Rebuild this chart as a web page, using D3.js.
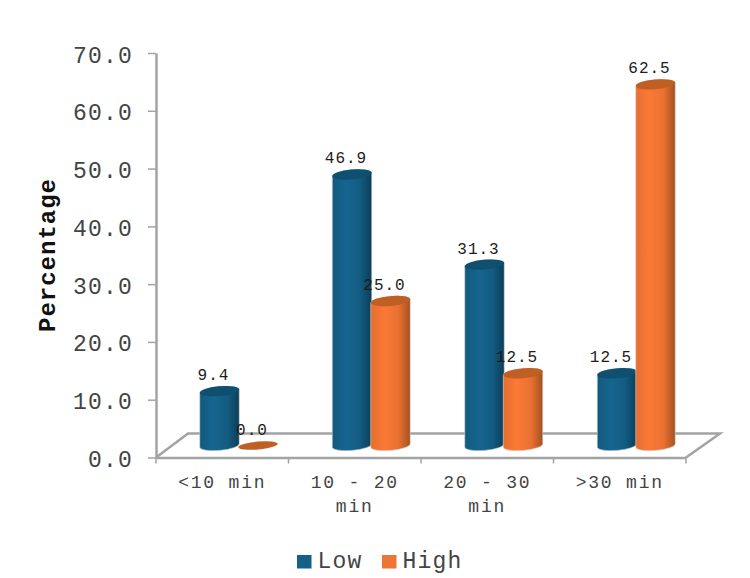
<!DOCTYPE html>
<html>
<head>
<meta charset="utf-8">
<script src="https://cdn.jsdelivr.net/npm/d3@7/dist/d3.min.js"></script>
<style>
  html, body { margin: 0; background: #fff; }
  svg { display: block; }
  text { font-family: "Liberation Mono", monospace; fill: #444; }
</style>
</head>
<body>
<div id="chart"></div>
<script>
// Travel time distribution by group
const categories = ["<10 min", "10 - 20 min", "20 - 30 min", ">30 min"];
const categoryLines = [["<10 min"], ["10 - 20", "min"], ["20 - 30", "min"], [">30 min"]];
const seriesNames = ["Low", "High"];
const lowValues = [9.4, 46.9, 31.3, 12.5];
const highValues = [0.0, 25.0, 12.5, 62.5];
const yTicks = [0, 10, 20, 30, 40, 50, 60, 70];

const width = 750, height = 578;
const plot = { left: 156, right: 686, top: 53, bottom: 457.5 };
const depth = { x: 32, y: 24 };         // floor offset of the pseudo-3D plot
const barInset = { x: 17, y: 12 };      // where the cylinders stand on the floor
const axisGrey = "#a3a3a3";

const styles = {
  Low:  { top: "#0f4f70", key: "#156088",
          stops: [["0%", "#125a7e"], ["35%", "#166590"], ["70%", "#135c82"], ["92%", "#0e4663"], ["100%", "#0c3d57"]] },
  High: { top: "#bf5f24", key: "#ee7634",
          stops: [["0%", "#e56e30"], ["35%", "#fb7936"], ["70%", "#ea7131"], ["92%", "#b65b25"], ["100%", "#a04f1f"]] }
};

const svg = d3.select("#chart").append("svg").attr("width", width).attr("height", height);
const defs = svg.append("defs");
seriesNames.forEach(name => {
  const g = defs.append("linearGradient").attr("id", "body-" + name);
  styles[name].stops.forEach(([o, c]) => g.append("stop").attr("offset", o).attr("stop-color", c));
});

const x = d3.scaleBand().domain(categories).range([plot.left, plot.right]);
const y = d3.scaleLinear().domain([0, 70]).range([plot.bottom, plot.top]);

// Floor of the 3D plot area
const floorPath = d3.path();
floorPath.moveTo(plot.left, y(0));
floorPath.lineTo(plot.left + depth.x, y(0) - depth.y);
floorPath.lineTo(plot.right + depth.x + 2, y(0) - depth.y);
floorPath.lineTo(plot.right, y(0));
svg.append("path").attr("d", floorPath.toString()).attr("fill", "none")
  .attr("stroke", axisGrey).attr("stroke-width", 2.5);

// Value axis
const yAxis = svg.append("g").attr("transform", `translate(${plot.left},0)`)
  .call(d3.axisLeft(y).tickValues(yTicks).tickSize(8).tickSizeOuter(0).tickFormat(d3.format(".1f")));
yAxis.select(".domain").attr("stroke", axisGrey).attr("stroke-width", 2.5);
yAxis.selectAll(".tick line").attr("stroke", axisGrey).attr("stroke-width", 1.5);
yAxis.selectAll(".tick text")
  .attr("x", -23).attr("dy", "9").attr("text-anchor", "end")
  .style("font-family", '"Liberation Mono", monospace')
  .style("font-size", "23px").style("letter-spacing", "1.2px").style("fill", "#444");

// Category axis, ticks at the band boundaries
const xAxis = svg.append("g").attr("transform", `translate(0,${y(0)})`)
  .call(d3.axisBottom(x).tickSize(0).tickSizeOuter(0));
xAxis.select(".domain").attr("stroke", axisGrey).attr("stroke-width", 2.5);
xAxis.selectAll(".tick text").each(function (d, i) {
  const t = d3.select(this).text(null).attr("y", 0).attr("dy", null)
    .style("font-family", '"Liberation Mono", monospace')
    .style("font-size", "18px").style("letter-spacing", "1.8px").style("fill", "#444");
  categoryLines[i].forEach((line, j) => {
    t.append("tspan").attr("x", 0).attr("y", 30 + j * 24).text(line);
  });
});
xAxis.selectAll(".boundary")
  .data([...categories.map(c => x(c)), plot.right])
  .join("line").attr("class", "boundary")
  .attr("x1", d => d).attr("x2", d => d).attr("y1", 0).attr("y2", 6)
  .attr("stroke", axisGrey).attr("stroke-width", 1.5);

// Cylinders: side wall, then the tilted cap
const barWidth = 39.5;
const rx = barWidth / 2, ry = 4.9, tilt = -5;
const rows = [];
categories.forEach((c, i) => {
  rows.push({ c, series: "Low", value: lowValues[i], left: x(c) + x.bandwidth() / 2 + barInset.x - barWidth });
  rows.push({ c, series: "High", value: highValues[i], left: x(c) + x.bandwidth() / 2 + barInset.x - 1 });
});

const topOf = v => y(v) - barInset.y;
const sideWall = d => {
  const cx = d.left + rx, yT = topOf(d.value), yB = topOf(0);
  const dy = rx * Math.sin(-tilt * Math.PI / 180);
  return `M${cx - rx},${yT + dy}L${cx - rx},${yB + dy}` +
         `A${rx},${ry} ${tilt} 0 0 ${cx + rx},${yB - dy}` +
         `L${cx + rx},${yT - dy}A${rx},${ry} ${tilt} 0 0 ${cx - rx},${yT + dy}Z`;
};

const bars = svg.append("g").selectAll("g").data(rows).join("g");
bars.filter(d => d.value > 0).append("path")
  .attr("d", sideWall)
  .attr("fill", d => `url(#body-${d.series})`)
  .attr("stroke", "#d9d9d9").attr("stroke-width", 0.6);
bars.append("ellipse")
  .attr("cx", d => d.left + rx).attr("cy", d => topOf(d.value))
  .attr("rx", rx).attr("ry", d => d.value > 0 ? ry : 4)
  .attr("transform", d => `rotate(${tilt} ${d.left + rx} ${topOf(d.value)})`)
  .attr("fill", d => styles[d.series].top);

// Value labels above each cylinder
svg.append("g").selectAll("text").data(rows).join("text")
  .attr("x", d => d.left + rx - 6)
  .attr("y", d => topOf(d.value) - 11)
  .attr("text-anchor", "middle")
  .style("font-size", "16px").style("letter-spacing", "1px").style("fill", "#1c1c1c")
  .text(d => d.value.toFixed(1));

// Value axis title
svg.append("text")
  .attr("transform", "translate(54.5,255) rotate(-90)")
  .attr("text-anchor", "middle")
  .style("font-size", "24px").style("font-weight", "bold").style("letter-spacing", "1px").style("fill", "#111")
  .text("Percentage");

// Legend
const legendX = d3.scaleOrdinal().domain(seriesNames).range([297, 382]);
const legend = svg.append("g").selectAll("g").data(seriesNames).join("g")
  .attr("transform", d => `translate(${legendX(d)},555)`);
legend.append("rect").attr("width", 14.5).attr("height", 13.5).attr("fill", d => styles[d].key);
legend.append("text").attr("x", 20.5).attr("y", 12.5)
  .style("font-size", "23px").style("letter-spacing", "1.2px")
  .text(d => d);
</script>
</body>
</html>
